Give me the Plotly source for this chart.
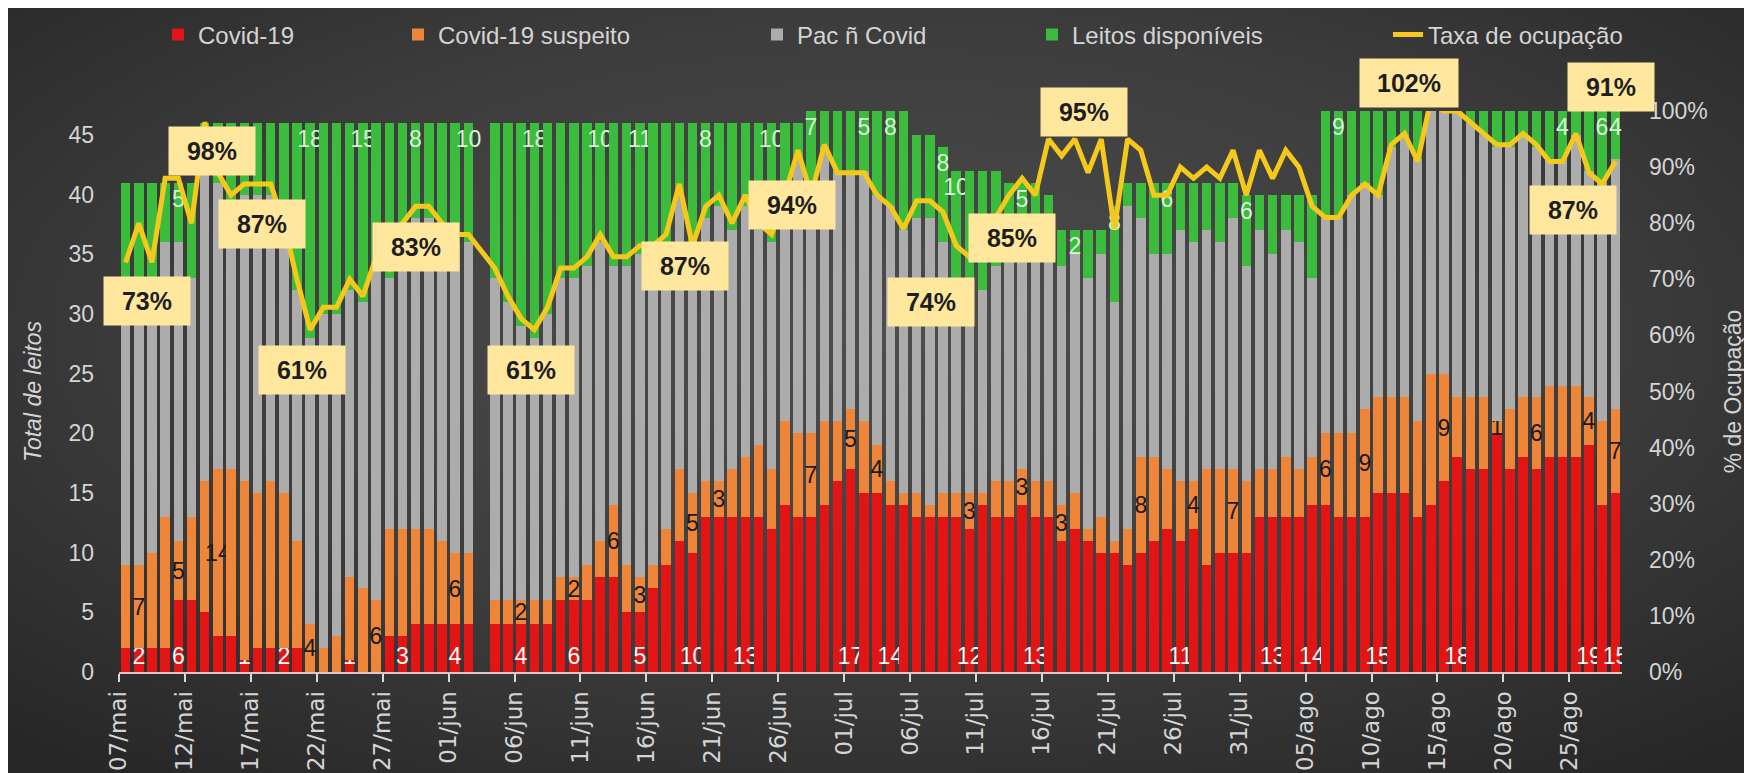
import base64
import pandas as pd
import plotly.graph_objects as go

# ---------------- data ----------------
start_date = "2020-05-07"
end_date = "2020-08-28"
dates = pd.date_range(start_date, end_date, freq="D")

covid = [2, 2, 2, 2, 6, 6, 5, 3, 3, 1,
         2, 2, 2, 2, 0, 0, 0, 1, 0, 0,
         3, 3, 4, 4, 4, 4, 4, None, 4, 4,
         4, 4, 4, 6, 6, 6, 8, 8, 5, 5,
         7, 9, 11, 10, 13, 13, 13, 13, 13, 12,
         14, 13, 13, 14, 16, 17, 15, 15, 14, 14,
         13, 13, 13, 13, 12, 14, 13, 13, 14, 13,
         13, 11, 12, 11, 10, 10, 9, 10, 11, 12,
         11, 12, 9, 10, 10, 10, 13, 13, 13, 13,
         14, 14, 13, 13, 13, 15, 15, 15, 13, 14,
         16, 18, 17, 17, 20, 17, 18, 17, 18, 18,
         18, 19, 14, 15]

suspeito = [7, 7, 8, 11, 5, 7, 11, 14, 14, 15,
            13, 14, 13, 9, 4, 2, 3, 7, 7, 6,
            9, 9, 8, 8, 7, 6, 6, None, 2, 2,
            2, 2, 2, 2, 2, 3, 3, 6, 4, 3,
            2, 3, 6, 5, 3, 3, 4, 5, 6, 5,
            7, 7, 7, 7, 5, 5, 6, 4, 2, 1,
            2, 1, 2, 2, 3, 1, 3, 3, 3, 3,
            3, 3, 3, 1, 3, 1, 3, 8, 7, 5,
            5, 4, 8, 7, 7, 6, 4, 4, 5, 4,
            4, 6, 7, 7, 9, 8, 8, 8, 8, 11,
            9, 5, 6, 6, 1, 5, 5, 6, 6, 6,
            6, 4, 7, 7]

nao_covid = [21, 24, 20, 23, 25, 20, 29, 24, 22, 24,
             25, 24, 22, 21, 24, 28, 27, 24, 24, 28,
             21, 25, 26, 26, 26, 26, 26, None, 27, 25,
             23, 22, 24, 25, 25, 25, 25, 20, 25, 27,
             26, 24, 23, 20, 22, 23, 20, 21, 18, 19,
             18, 23, 20, 23, 21, 20, 21, 21, 23, 22,
             23, 24, 21, 17, 16, 17, 18, 19, 19, 19,
             22, 20, 20, 21, 22, 20, 27, 20, 17, 18,
             21, 20, 20, 19, 21, 18, 20, 18, 19, 19,
             15, 18, 18, 20, 19, 17, 21, 22, 22, 23,
             22, 24, 23, 22, 23, 22, 22, 21, 19, 19,
             21, 19, 20, 21]

disponiveis = [11, 8, 11, 5, 5, 8, 1, 5, 7, 6,
               6, 6, 9, 14, 18, 16, 16, 14, 15, 12,
               13, 9, 8, 8, 9, 10, 10, None, 13, 15,
               17, 18, 16, 13, 13, 12, 10, 12, 12, 11,
               11, 10, 6, 11, 8, 7, 9, 7, 9, 10,
               7, 3, 7, 3, 5, 5, 5, 7, 8, 10,
               7, 7, 8, 10, 11, 10, 8, 6, 5, 6,
               2, 3, 2, 4, 2, 8, 2, 3, 6, 6,
               4, 5, 4, 5, 3, 6, 3, 5, 3, 4,
               7, 9, 9, 7, 6, 7, 3, 2, 4, 0,
               0, 0, 1, 2, 3, 3, 2, 3, 4, 4,
               2, 5, 6, 4]

ocupacao = [73, 80, 73, 88, 88, 80, 98, 89, 85, 87,
            87, 87, 80, 70, 61, 65, 65, 70, 67, 74,
            72, 80, 83, 83, 80, 78, 78, None, 72, 67,
            63, 61, 65, 72, 72, 74, 78, 74, 74, 76,
            76, 78, 87, 76, 83, 85, 80, 85, 80, 78,
            85, 93, 85, 94, 89, 89, 89, 85, 83, 79,
            84, 84, 82, 76, 74, 76, 81, 85, 88, 85,
            95, 92, 95, 89, 95, 79, 95, 93, 85, 85,
            90, 88, 90, 88, 93, 85, 93, 88, 93, 90,
            83, 81, 81, 85, 87, 85, 94, 96, 91, 102,
            100, 100, 98, 96, 94, 94, 96, 94, 91, 91,
            96, 89, 87, 91]

tick_labels = ["07/mai", "12/mai", "17/mai", "22/mai", "27/mai", "01/jun",
               "06/jun", "11/jun", "16/jun", "21/jun", "26/jun", "01/jul",
               "06/jul", "11/jul", "16/jul", "21/jul", "26/jul", "31/jul",
               "05/ago", "10/ago", "15/ago", "20/ago", "25/ago"]

# days (index into dates) that carry a data label
covid_label_days = [1, 4, 9, 12, 17, 21, 25, 30, 34, 39, 43, 47, 55, 58, 64,
                    69, 80, 87, 90, 95, 101, 111, 113]
susp_label_days = [1, 4, 7, 14, 19, 25, 30, 34, 37, 39, 43, 45, 52, 55, 57,
                   64, 68, 71, 77, 81, 84, 91, 94, 100, 104, 107, 111, 113]
disp_label_days = [4, 14, 18, 22, 26, 31, 36, 39, 44, 49, 52, 56, 58, 62, 63,
                   68, 72, 75, 79, 85, 92, 109, 112, 113]
occ_label_days = [0, 6, 11, 14, 23, 31, 42, 53, 64, 67, 74, 99, 112, 113]

# ---------------- styles ----------------
# pixel offsets of the occupancy label boxes from their points
occ_label_shift = [(21, -39), (7, -29), (-9, -40), (-8, -40), (-13, -41),
                   (-3, -40), (6, -82), (-32, -60), (-38, -45), (3, -43),
                   (-17, 27), (-22, 28), (-29, -26), (-4, 74)]

RED = "#e31414"
ORANGE = "#ef8538"
GRAY = "#acacac"
GREEN = "#3cbc3c"
LINE = "#f4c91c"
BOX = "#ffe79e"
TXT = "#d4d4d4"
FONT = "Liberation Sans, Arial, sans-serif"
DAY_MS = 86400000

W, H = 1752, 773
ML, MR, MT, MB = 111, 138, 103, 109
PW, PH = W - ML - MR, H - MT - MB


def label_text(values, days):
    keep = set(days)
    return [str(v) if (i in keep and v is not None) else "" for i, v in enumerate(values)]


fig = go.Figure()

bar_common = dict(x=dates, width=0.72 * DAY_MS, offset=0.14 * DAY_MS,
                  textposition="inside", textangle=0, constraintext="none",
                  hoverinfo="skip", marker_line_width=0, showlegend=True)

fig.add_trace(go.Bar(name="Covid-19", y=covid, marker_color=RED,
                     text=label_text(covid, covid_label_days),
                     insidetextanchor="start",
                     textfont=dict(family=FONT, size=23, color="#f7f7f7"),
                     legend="legend", **bar_common))
fig.add_trace(go.Bar(name="Covid-19 suspeito", y=suspeito, marker_color=ORANGE,
                     text=label_text(suspeito, susp_label_days),
                     insidetextanchor="middle",
                     textfont=dict(family=FONT, size=23, color="#1a1a1a"),
                     legend="legend2", **bar_common))
fig.add_trace(go.Bar(name="Pac ñ Covid", y=nao_covid, marker_color=GRAY,
                     legend="legend3", **bar_common))
fig.add_trace(go.Bar(name="Leitos disponíveis", y=disponiveis, marker_color=GREEN,
                     text=label_text(disponiveis, disp_label_days),
                     insidetextanchor="end",
                     textfont=dict(family=FONT, size=23, color="#d6f5d6"),
                     legend="legend4", **bar_common))

centers = dates + pd.Timedelta(hours=12)
occ_frac = [None if v is None else v / 100 for v in ocupacao]
fig.add_trace(go.Scatter(name="Taxa de ocupação", x=centers, y=occ_frac,
                         yaxis="y2", mode="lines", connectgaps=True,
                         line=dict(color=LINE, width=5), hoverinfo="skip",
                         legend="legend5", showlegend=True))

annotations = []
for d, (dx, dy) in zip(occ_label_days, occ_label_shift):
    v = ocupacao[d]
    annotations.append(dict(
        x=centers[d], y=min(v, 100) / 100, xref="x", yref="y2",
        text=f"{v}%", showarrow=False, xshift=dx, yshift=dy,
        bgcolor=BOX, width=96 if v >= 100 else 84, height=46,
        font=dict(family=FONT, size=25, color="#1e1e1e", weight="bold")))

# background gradient
svg = ("<svg xmlns='http://www.w3.org/2000/svg' width='1752' height='773'>"
       "<defs><radialGradient id='g' cx='0.5' cy='0.42' r='0.72'>"
       "<stop offset='0' stop-color='#4d4d4d'/>"
       "<stop offset='0.55' stop-color='#3d3d3d'/>"
       "<stop offset='1' stop-color='#272727'/>"
       "</radialGradient></defs>"
       "<rect width='1752' height='773' fill='url(#g)'/></svg>")
bg_src = "data:image/svg+xml;base64," + base64.b64encode(svg.encode()).decode()


def px_x(px):
    return (px - ML) / PW


legend_style = dict(orientation="h", yanchor="middle", y=(H - MB - 27) / PH,
                    xanchor="left", bgcolor="rgba(0,0,0,0)",
                    font=dict(family=FONT, size=24, color=TXT),
                    itemwidth=30, visible=True)

fig.update_layout(
    width=W, height=H, showlegend=True,
    margin=dict(l=ML, r=MR, t=MT, b=MB, autoexpand=False),
    paper_bgcolor="#343434", plot_bgcolor="rgba(0,0,0,0)",
    barmode="stack", bargap=0,
    font=dict(family=FONT, color=TXT),
    images=[dict(source=bg_src, xref="paper", yref="paper",
                 x=-ML / PW, y=1 + MT / PH, sizex=W / PW, sizey=H / PH,
                 xanchor="left", yanchor="top", sizing="stretch",
                 layer="below")],
    xaxis=dict(type="date",
               range=[dates[0], dates[-1] + pd.Timedelta(days=1)],
               tickvals=pd.date_range(start_date, end_date, freq="5D"),
               ticktext=tick_labels, tickangle=-90,
               tickfont=dict(family="DejaVu Sans, sans-serif", size=23, color=TXT),
               ticks="outside", ticklen=8, tickwidth=1.5, tickcolor="#d9d9d9",
               showline=True, linecolor="#e3c4c4", linewidth=2,
               showgrid=False, zeroline=False),
    yaxis=dict(range=[0, 47], tickvals=list(range(0, 46, 5)),
               tickfont=dict(family=FONT, size=23, color=TXT),
               ticklabelstandoff=24, showgrid=False, zeroline=False,
               title=dict(text="Total de leitos", standoff=20,
                          font=dict(family=FONT, size=23, color=TXT,
                                    style="italic"))),
    yaxis2=dict(range=[0, 1], overlaying="y", side="right",
                tickvals=[i / 10 for i in range(11)], tickformat=".0%",
                tickfont=dict(family=FONT, size=23, color=TXT),
                ticklabelstandoff=26, showgrid=False, zeroline=False,
                title=dict(text="% de Ocupação", standoff=18,
                           font=dict(family=FONT, size=23, color=TXT))),
    annotations=annotations,
    legend=dict(x=px_x(150), **legend_style),
    legend2=dict(x=px_x(390), **legend_style),
    legend3=dict(x=px_x(749), **legend_style),
    legend4=dict(x=px_x(1024), **legend_style),
    legend5=dict(x=px_x(1380), **legend_style),
)

fig.write_html("out.html")
